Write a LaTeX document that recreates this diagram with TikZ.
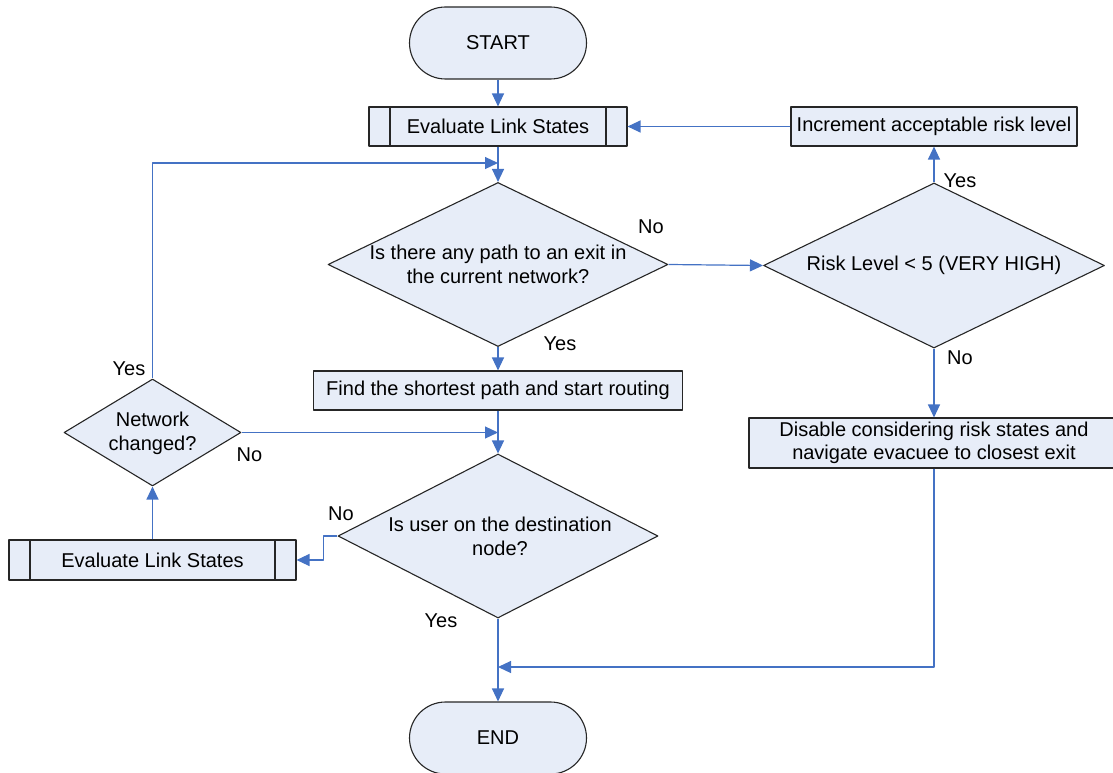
\documentclass[tikz,border=0pt]{standalone}
\usepackage{fontspec}
\setmainfont{Liberation Sans}
\usetikzlibrary{shapes.geometric,arrows.meta}
\definecolor{boxfill}{RGB}{231,237,248}
\definecolor{flowblue}{RGB}{68,114,196}
\tikzset{
	base/.style={draw=black!85,fill=boxfill,line width=1.1pt,inner sep=0pt,align=center},
	terminal/.style={base,rectangle,rounded corners=36pt,minimum width=177pt,minimum height=72pt},
	process/.style={base,rectangle,minimum height=39pt},
	subproc/.style={process,path picture={\draw[line width=1.1pt] ([xshift=21pt]path picture bounding box.north west)--([xshift=21pt]path picture bounding box.south west) ([xshift=-21pt]path picture bounding box.north east)--([xshift=-21pt]path picture bounding box.south east);}},
	decision/.style={base,diamond,minimum width=340pt,minimum height=164pt},
	flow/.style={draw=flowblue,line width=1.2pt,-{Triangle[length=13pt,width=12pt]}},
}
\begin{document}
\begin{tikzpicture}[x=1pt,y=-1pt,line join=round,font=\fontsize{20}{23.5}\selectfont]
	\useasboundingbox (0,0) rectangle (1113,773);
	% main column
	\node[terminal] (start) at (498,43) {START};
	\node[subproc,minimum width=258pt] (eval1) at (498,126.5) {Evaluate Link States};
	\node[decision] (d1) at (498,264.5) {};
	\node[align=center] (d1t) at (d1) {Is there any path to an exit in\\the current network?};
	\node[process,minimum width=369pt] (find) at (498,390.5) {Find the shortest path and start routing};
	\node[decision,minimum width=320pt] (d3) at (498,536) {};
	\node[align=center] (d3t) at (500,536.5) {Is user on the destination\\node?};
	\node[terminal] (end) at (498,738) {END};
	% right column
	\node[process,minimum width=286pt] (incr) at (934,126.5) {Increment acceptable risk level};
	\node[decision,minimum width=341pt,minimum height=165pt] (d2) at (934,265.5) {};
	\node (d2t) at (d2) {Risk Level < 5 (VERY HIGH)};
	\node[process,minimum width=370pt,minimum height=50pt] (disable) at (934,443) {Disable considering risk states and\\navigate evacuee to closest exit};
	% left column
	\node[decision,minimum width=177pt,minimum height=107pt] (net) at (152.5,432.5) {};
	\node[align=center] (nett) at (152.5,433.5) {Network\\changed?};
	\node[subproc,minimum width=287pt,minimum height=40pt] (eval2) at (152.5,560) {Evaluate Link States};
	% joins
	\coordinate (loop) at (498,163);
	\coordinate (back) at (498,667);
	% connectors
	\draw[flow] (start) -- (eval1);
	\draw[flow] (eval1) -- (d1);
	\draw[flow] (d1) -- (find);
	\draw[flow] (find) -- (d3);
	\draw[flow] (d3) -- (end);
	\draw[flow] (d1.east) -- (d2.west);
	\draw[flow] (d2) -- (incr);
	\draw[flow] (incr) -- (eval1);
	\draw[flow] (d2) -- (disable);
	\draw[flow] (disable.south) |- (back);
	\draw[flow] (eval2) -- (net);
	\draw[flow] (net.north) |- (loop);
	\draw[flow] (net.east) -- (net.east -| find.south);
	\draw[flow] (d3.west) -- ++(-14,0) |- (eval2.east);
	% answers
	\node (no1) at (651,227) {No};
	\node (yes1) at (560,344) {Yes};
	\node (yes2) at (960,181) {Yes};
	\node (no2) at (960,358) {No};
	\node (yes3) at (129,369) {Yes};
	\node (no3) at (249.5,455) {No};
	\node (no4) at (341,514) {No};
	\node (yes4) at (441,621) {Yes};
\end{tikzpicture}
\end{document}
